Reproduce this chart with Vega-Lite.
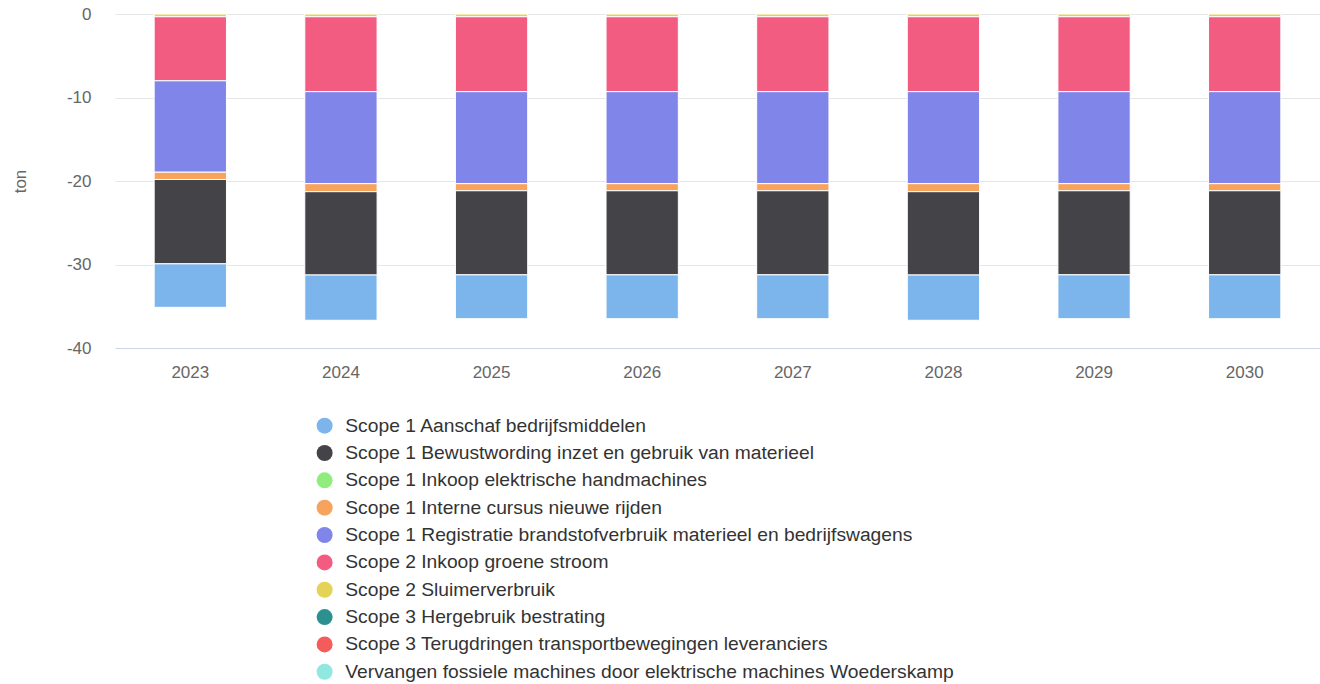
{
  "$schema": "https://vega.github.io/schema/vega-lite/v6.json",
  "width": 1205,
  "height": 334,
  "autosize": {"type": "none"},
  "padding": {"left": 115, "top": 14, "right": 0, "bottom": 336},
  "background": "white",
  "config": {
    "view": {"stroke": null},
    "font": "Liberation Sans"
  },
  "data": {
    "values": [
      {"year": "2023", "series": "Scope 2 Sluimerverbruik", "idx": 6, "value": -0.33},
      {"year": "2023", "series": "Scope 2 Inkoop groene stroom", "idx": 5, "value": -7.67},
      {"year": "2023", "series": "Scope 1 Registratie brandstofverbruik materieel en bedrijfswagens", "idx": 4, "value": -10.95},
      {"year": "2023", "series": "Scope 1 Interne cursus nieuwe rijden", "idx": 3, "value": -0.87},
      {"year": "2023", "series": "Scope 1 Bewustwording inzet en gebruik van materieel", "idx": 1, "value": -10.1},
      {"year": "2023", "series": "Scope 1 Aanschaf bedrijfsmiddelen", "idx": 0, "value": -5.21},

      {"year": "2024", "series": "Scope 2 Sluimerverbruik", "idx": 6, "value": -0.33},
      {"year": "2024", "series": "Scope 2 Inkoop groene stroom", "idx": 5, "value": -8.97},
      {"year": "2024", "series": "Scope 1 Registratie brandstofverbruik materieel en bedrijfswagens", "idx": 4, "value": -11.02},
      {"year": "2024", "series": "Scope 1 Interne cursus nieuwe rijden", "idx": 3, "value": -0.96},
      {"year": "2024", "series": "Scope 1 Bewustwording inzet en gebruik van materieel", "idx": 1, "value": -9.98},
      {"year": "2024", "series": "Scope 1 Aanschaf bedrijfsmiddelen", "idx": 0, "value": -5.42},

      {"year": "2025", "series": "Scope 2 Sluimerverbruik", "idx": 6, "value": -0.33},
      {"year": "2025", "series": "Scope 2 Inkoop groene stroom", "idx": 5, "value": -8.97},
      {"year": "2025", "series": "Scope 1 Registratie brandstofverbruik materieel en bedrijfswagens", "idx": 4, "value": -11.02},
      {"year": "2025", "series": "Scope 1 Interne cursus nieuwe rijden", "idx": 3, "value": -0.85},
      {"year": "2025", "series": "Scope 1 Bewustwording inzet en gebruik van materieel", "idx": 1, "value": -10.07},
      {"year": "2025", "series": "Scope 1 Aanschaf bedrijfsmiddelen", "idx": 0, "value": -5.25},

      {"year": "2026", "series": "Scope 2 Sluimerverbruik", "idx": 6, "value": -0.33},
      {"year": "2026", "series": "Scope 2 Inkoop groene stroom", "idx": 5, "value": -8.97},
      {"year": "2026", "series": "Scope 1 Registratie brandstofverbruik materieel en bedrijfswagens", "idx": 4, "value": -11.02},
      {"year": "2026", "series": "Scope 1 Interne cursus nieuwe rijden", "idx": 3, "value": -0.85},
      {"year": "2026", "series": "Scope 1 Bewustwording inzet en gebruik van materieel", "idx": 1, "value": -10.07},
      {"year": "2026", "series": "Scope 1 Aanschaf bedrijfsmiddelen", "idx": 0, "value": -5.25},

      {"year": "2027", "series": "Scope 2 Sluimerverbruik", "idx": 6, "value": -0.33},
      {"year": "2027", "series": "Scope 2 Inkoop groene stroom", "idx": 5, "value": -8.97},
      {"year": "2027", "series": "Scope 1 Registratie brandstofverbruik materieel en bedrijfswagens", "idx": 4, "value": -11.02},
      {"year": "2027", "series": "Scope 1 Interne cursus nieuwe rijden", "idx": 3, "value": -0.85},
      {"year": "2027", "series": "Scope 1 Bewustwording inzet en gebruik van materieel", "idx": 1, "value": -10.07},
      {"year": "2027", "series": "Scope 1 Aanschaf bedrijfsmiddelen", "idx": 0, "value": -5.25},

      {"year": "2028", "series": "Scope 2 Sluimerverbruik", "idx": 6, "value": -0.33},
      {"year": "2028", "series": "Scope 2 Inkoop groene stroom", "idx": 5, "value": -8.97},
      {"year": "2028", "series": "Scope 1 Registratie brandstofverbruik materieel en bedrijfswagens", "idx": 4, "value": -11.02},
      {"year": "2028", "series": "Scope 1 Interne cursus nieuwe rijden", "idx": 3, "value": -0.96},
      {"year": "2028", "series": "Scope 1 Bewustwording inzet en gebruik van materieel", "idx": 1, "value": -9.98},
      {"year": "2028", "series": "Scope 1 Aanschaf bedrijfsmiddelen", "idx": 0, "value": -5.42},

      {"year": "2029", "series": "Scope 2 Sluimerverbruik", "idx": 6, "value": -0.33},
      {"year": "2029", "series": "Scope 2 Inkoop groene stroom", "idx": 5, "value": -8.97},
      {"year": "2029", "series": "Scope 1 Registratie brandstofverbruik materieel en bedrijfswagens", "idx": 4, "value": -11.02},
      {"year": "2029", "series": "Scope 1 Interne cursus nieuwe rijden", "idx": 3, "value": -0.85},
      {"year": "2029", "series": "Scope 1 Bewustwording inzet en gebruik van materieel", "idx": 1, "value": -10.07},
      {"year": "2029", "series": "Scope 1 Aanschaf bedrijfsmiddelen", "idx": 0, "value": -5.25},

      {"year": "2030", "series": "Scope 2 Sluimerverbruik", "idx": 6, "value": -0.33},
      {"year": "2030", "series": "Scope 2 Inkoop groene stroom", "idx": 5, "value": -8.97},
      {"year": "2030", "series": "Scope 1 Registratie brandstofverbruik materieel en bedrijfswagens", "idx": 4, "value": -11.02},
      {"year": "2030", "series": "Scope 1 Interne cursus nieuwe rijden", "idx": 3, "value": -0.85},
      {"year": "2030", "series": "Scope 1 Bewustwording inzet en gebruik van materieel", "idx": 1, "value": -10.07},
      {"year": "2030", "series": "Scope 1 Aanschaf bedrijfsmiddelen", "idx": 0, "value": -5.25}
    ]
  },
  "mark": {"type": "bar", "stroke": "white", "strokeWidth": 1},
  "encoding": {
    "x": {
      "field": "year",
      "type": "ordinal",
      "scale": {"paddingInner": 0.52, "paddingOuter": 0.26},
      "axis": {
        "title": null,
        "labelAngle": 0,
        "ticks": false,
        "labelPadding": 16,
        "labelFontSize": 17,
        "labelColor": "#666666",
        "domainColor": "#ccd6eb",
        "domainWidth": 1,
        "grid": false
      }
    },
    "y": {
      "field": "value",
      "type": "quantitative",
      "stack": "zero",
      "scale": {"domain": [-40, 0], "nice": false},
      "axis": {
        "title": "ton",
        "titleFontSize": 17,
        "titleFontWeight": "normal",
        "titleColor": "#666666",
        "titlePadding": 37,
        "values": [0, -10, -20, -30, -40],
        "labelExpr": "'' + datum.value",
        "ticks": false,
        "domain": false,
        "labelPadding": 24,
        "labelFontSize": 17,
        "labelColor": "#666666",
        "gridColor": "#e6e6e6",
        "gridWidth": 1
      }
    },
    "color": {
      "field": "series",
      "type": "nominal",
      "scale": {
        "domain": [
          "Scope 1 Aanschaf bedrijfsmiddelen",
          "Scope 1 Bewustwording inzet en gebruik van materieel",
          "Scope 1 Inkoop elektrische handmachines",
          "Scope 1 Interne cursus nieuwe rijden",
          "Scope 1 Registratie brandstofverbruik materieel en bedrijfswagens",
          "Scope 2 Inkoop groene stroom",
          "Scope 2 Sluimerverbruik",
          "Scope 3 Hergebruik bestrating",
          "Scope 3 Terugdringen transportbewegingen leveranciers",
          "Vervangen fossiele machines door elektrische machines Woederskamp"
        ],
        "range": ["#7cb5ec", "#434348", "#90ed7d", "#f7a35c", "#8085e9", "#f15c80", "#e4d354", "#2b908f", "#f45b5b", "#91e8e1"]
      },
      "legend": {
        "orient": "none",
        "legendX": 200,
        "legendY": 402,
        "direction": "vertical",
        "title": null,
        "symbolType": "circle",
        "symbolSize": 256,
        "symbolStrokeWidth": 0,
        "symbolOpacity": 1,
        "labelFontSize": 19.25,
        "labelColor": "#333333",
        "labelLimit": 1000,
        "labelOffset": 11,
        "rowPadding": 7.35,
        "padding": 0
      }
    },
    "order": {"field": "idx", "type": "quantitative", "sort": "descending"}
  }
}
